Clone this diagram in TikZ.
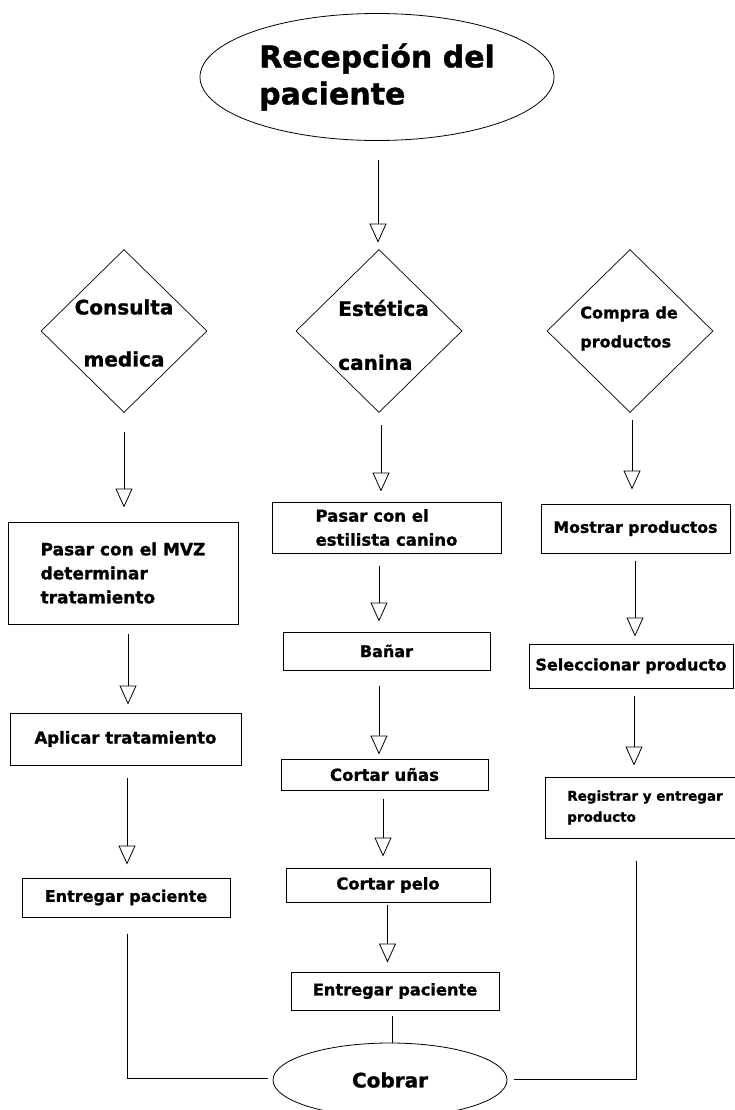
\documentclass[tikz,border=0pt]{standalone}
\usepackage{fontspec}
\setmainfont{DejaVu Sans}[BoldFeatures={FakeBold=1.2}]
\usetikzlibrary{shapes.geometric,arrows.meta,calc}
\newcommand\fsz[2]{\bfseries\fontsize{#1}{#2}\selectfont}
\newcommand\farrow[5]{\draw[flow] ($(#1.south)+(#3,-#4)$) -- ($(#1.south|-#2.north)+(#3,#5)$);}
\tikzset{
  box/.style={draw, line width=1pt, rectangle, inner sep=0pt, align=center},
  dia/.style={draw, line width=0.7pt, diamond, aspect=1, inner sep=0pt, minimum width=166pt, minimum height=163pt},
  oval/.style={draw, line width=0.8pt, ellipse, inner sep=0pt},
  flow/.style={line width=0.8pt, -{Triangle[open, length=19pt, width=17pt, line width=0.8pt]}},
  link/.style={line width=0.8pt},
}
\begin{document}
\begin{tikzpicture}[x=1pt,y=1pt]
\useasboundingbox (0,0) rectangle (735,-1110);
\fill[white] (0,0) rectangle (735,-1110);
\begin{scope}
\clip (0,0) rectangle (735,-1110);
% top ellipse
\node[oval, minimum width=354pt, minimum height=127pt, align=left, font=\fsz{30}{37}] (top) at (377,-77) {Recepción del\\paciente};
% diamonds
\node[dia] (d1) at (124,-331) {};
\node[align=center, font=\fsz{20}{52}] (d1t) at (124,-333) {Consulta\\medica};
\node[dia] (d2) at (379,-331) {};
\node[align=left, font=\fsz{20}{54}] (d2t) at (383.5,-335) {Estética\\canina};
\node[dia] (d3) at (630,-331) {};
\node[align=left, font=\fsz{16}{29}] (d3t) at (629,-328.5) {Compra de\\productos};
% left column
\node[box, minimum width=230pt, minimum height=102pt, align=left, font=\fsz{17}{24}] (mvz) at (123,-573) {Pasar con el MVZ\\determinar\\tratamiento};
\node[box, minimum width=231pt, minimum height=52pt, font=\fsz{16.5}{20}] (apl) at (125.5,-739) {Aplicar tratamiento};
\node[box, minimum width=208pt, minimum height=39pt, font=\fsz{16}{20}] (ent1) at (126,-897.5) {Entregar paciente};
% middle column
\node[box, minimum width=229pt, minimum height=51pt, align=left, font=\fsz{16.5}{24}] (est) at (386.5,-527.5) {Pasar con el\\estilista canino};
\node[box, minimum width=207pt, minimum height=38pt, font=\fsz{16}{20}] (ban) at (386.5,-651) {Bañar};
\node[box, minimum width=207pt, minimum height=31pt, font=\fsz{16.5}{20}] (una) at (384.5,-774.5) {Cortar uñas};
\node[box, minimum width=204pt, minimum height=34pt, font=\fsz{16.3}{20}] (pel) at (388,-885) {Cortar pelo};
\node[box, minimum width=208pt, minimum height=38pt, font=\fsz{16.2}{20}] (ent2) at (395,-991) {Entregar paciente};
% right column
\node[box, minimum width=189pt, minimum height=49pt, font=\fsz{15.7}{20}] (mos) at (635.5,-528.5) {Mostrar productos};
\node[box, minimum width=204pt, minimum height=44pt, font=\fsz{16}{20}] (sel) at (631,-666) {Seleccionar producto};
\node[box, minimum width=200pt, minimum height=61pt, align=left, font=\fsz{13.5}{21}] (reg) at (645,-807.5) {Registrar y entregar\\producto};
% end ellipse
\node[oval, minimum width=234pt, minimum height=74pt, font=\fsz{20}{24}] (cob) at (390,-1080) {Cobrar};
% arrows
\farrow{top}{d2}{1}{19.5}{6.5}
\farrow{d1}{mvz}{0}{19.5}{14}
\farrow{d2}{est}{2}{12.5}{10}
\farrow{d3}{mos}{2}{7.5}{14}
\farrow{mvz}{apl}{5}{9}{8}
\farrow{apl}{ent1}{1.5}{12}{13}
\farrow{est}{ban}{-7.5}{12}{10}
\farrow{ban}{una}{-7.5}{15}{4}
\farrow{una}{pel}{-1.5}{8}{11}
\farrow{pel}{ent2}{-0.5}{2}{9}
\farrow{mos}{sel}{-0.5}{7}{7}
\farrow{sel}{reg}{3}{7}{11}
% plain connectors to Cobrar
\draw[link] ($(ent2.south)+(-3,-5)$) -- ($(ent2.south|-cob.north)+(-3,0)$);
\draw[link] ($(ent1.south)+(1,-16)$) |- ($(cob.west)+(-5,2)$);
\draw[link] ($(reg.south)+(-9,-22)$) |- ($(cob.east)+(7,1)$);
\end{scope}
\end{tikzpicture}
\end{document}
